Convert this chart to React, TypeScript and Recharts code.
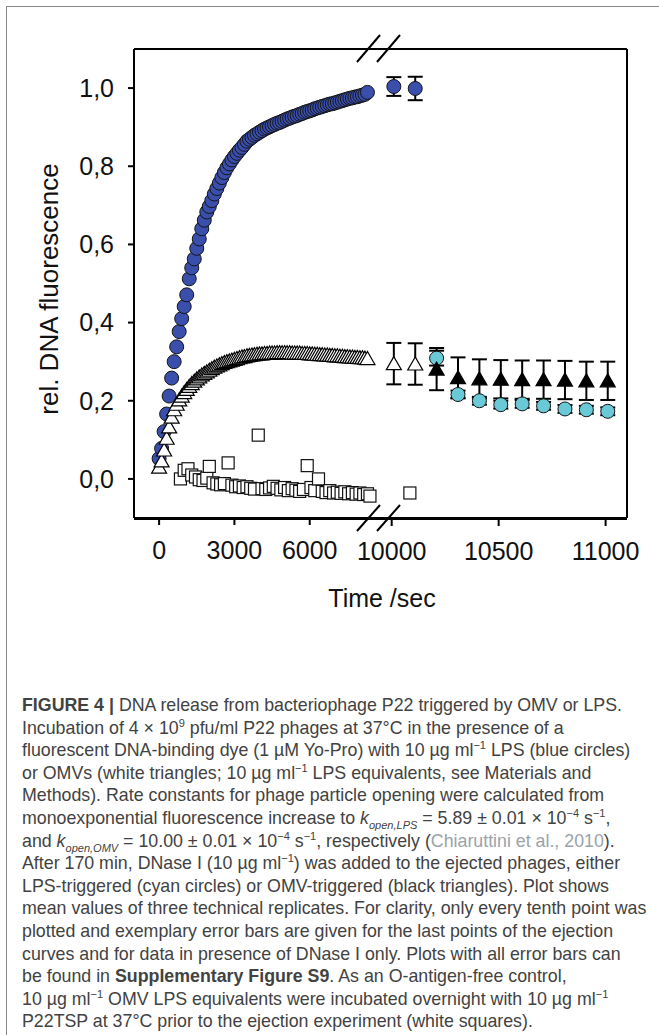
import React from "react";
import { ScatterChart, Scatter, XAxis, YAxis, ErrorBar } from "recharts";

// every tenth point of the ejection runs (s)
const ejectionTimes = [
  0, 100, 200, 300, 400, 500, 600, 700, 800, 900,
  1000, 1100, 1200, 1300, 1400, 1500, 1600, 1700, 1800, 1900,
  2000, 2100, 2200, 2300, 2400, 2500, 2600, 2700, 2800, 2900,
  3000, 3100, 3200, 3300, 3400, 3500, 3600, 3700, 3800, 3900,
  4000, 4100, 4200, 4300, 4400, 4500, 4600, 4700, 4800, 4900,
  5000, 5100, 5200, 5300, 5400, 5500, 5600, 5700, 5800, 5900,
  6000, 6100, 6200, 6300, 6400, 6500, 6600, 6700, 6800, 6900,
  7000, 7100, 7200, 7300, 7400, 7500, 7600, 7700, 7800, 7900,
  8000, 8100, 8200, 8300,
];

// LPS triggered (blue circles)
const lpsValues = [
  0.052, 0.078, 0.121, 0.166, 0.212, 0.258, 0.3, 0.338, 0.377, 0.41,
  0.441, 0.471, 0.512, 0.54, 0.563, 0.59, 0.614, 0.64, 0.662, 0.683,
  0.697, 0.712, 0.729, 0.743, 0.757, 0.771, 0.784, 0.796, 0.806, 0.816,
  0.825, 0.833, 0.841, 0.848, 0.856, 0.864, 0.869, 0.874, 0.879, 0.883,
  0.887, 0.891, 0.895, 0.898, 0.901, 0.904, 0.907, 0.91, 0.912, 0.915,
  0.918, 0.921, 0.923, 0.926, 0.928, 0.93, 0.933, 0.935, 0.938, 0.94,
  0.942, 0.944, 0.947, 0.949, 0.951, 0.953, 0.955, 0.957, 0.959, 0.96,
  0.962, 0.964, 0.966, 0.968, 0.97, 0.972, 0.974, 0.975, 0.977, 0.978,
  0.98, 0.982, 0.984, 0.989,
];

// OMV triggered (white triangles)
const omvValues = [
  0.03, 0.046, 0.074, 0.104, 0.133, 0.158, 0.177, 0.191, 0.202, 0.212,
  0.221, 0.229, 0.237, 0.244, 0.25, 0.256, 0.261, 0.266, 0.27, 0.274,
  0.278, 0.282, 0.286, 0.289, 0.292, 0.295, 0.298, 0.3, 0.302, 0.304,
  0.306, 0.308, 0.31, 0.312, 0.313, 0.315, 0.316, 0.317, 0.318, 0.319,
  0.32, 0.32, 0.321, 0.321, 0.322, 0.322, 0.322, 0.323, 0.323, 0.323,
  0.323, 0.323, 0.323, 0.322, 0.322, 0.322, 0.322, 0.321, 0.321, 0.321,
  0.32, 0.32, 0.319, 0.319, 0.318, 0.318, 0.317, 0.317, 0.316, 0.316,
  0.315, 0.315, 0.314, 0.314, 0.313, 0.313, 0.312, 0.312, 0.311, 0.311,
  0.31, 0.31, 0.309, 0.308,
];

// O-antigen-free control (white squares)
const controlTimes = [
  850, 1000, 1150, 1300, 1450, 1600, 1750, 1900, 2000, 2150,
  2300, 2450, 2600, 2750, 2900, 3050, 3200, 3350, 3500, 3650,
  3800, 3950, 4100, 4250, 4400, 4550, 4700, 4850, 5000, 5150,
  5300, 5450, 5600, 5750, 5900, 6050, 6200, 6350, 6500, 6650,
  6800, 6950, 7100, 7250, 7400, 7550, 7700, 7850, 8000, 8150,
  8300, 8400,
];
const controlValues = [
  0.0, 0.022, 0.026, 0.01, 0.005, -0.002, -0.004, 0.002, 0.032, -0.01,
  -0.013, -0.015, -0.012, 0.041, -0.016, -0.02, -0.018, -0.022, -0.02, -0.024,
  -0.026, 0.112, -0.025, -0.027, -0.023, -0.019, -0.024, -0.028, -0.022, -0.03,
  -0.025, -0.029, -0.032, -0.027, 0.034, -0.022, -0.03, 0.0, -0.032, -0.035,
  -0.03, -0.036, -0.034, -0.037, -0.033, -0.038, -0.035, -0.039, -0.036, -0.04,
  -0.038, -0.044,
];

// after the axis break
const tailTimes = [10010, 10110];
const lpsTail = [1.004, 0.999];
const lpsTailErr = [0.024, 0.03];
const omvTail = [0.295, 0.294];
const omvTailErr = [0.053, 0.053];
const controlTailTimes = [10085];
const controlTail = [-0.036];

// DNase I added
const dnaseTimes = [10210, 10310, 10410, 10510, 10610, 10710, 10810, 10910, 11010];
const dnaseLps = [0.309, 0.216, 0.2, 0.19, 0.192, 0.187, 0.179, 0.177, 0.173];
const dnaseLpsErr = [0.019, 0.01, 0.01, 0.01, 0.01, 0.01, 0.01, 0.01, 0.01];
const dnaseOmv = [0.281, 0.259, 0.256, 0.255, 0.254, 0.254, 0.253, 0.251, 0.251];
const dnaseOmvErr = [0.054, 0.052, 0.05, 0.049, 0.049, 0.049, 0.049, 0.049, 0.049];

const leftTicks = [0, 3000, 6000];
const rightTicks = [10000, 10500, 11000];
const yTicks = [0, 0.2, 0.4, 0.6, 0.8, 1.0];

const pts = (ts: number[], vs: number[], es?: number[]) =>
  ts.map((t, i) => ({ t, v: vs[i], e: es ? es[i] : 0 }));

const lpsData = pts(ejectionTimes, lpsValues);
const omvData = pts(ejectionTimes, omvValues);
const controlData = pts(controlTimes, controlValues);
const lpsTailData = pts(tailTimes, lpsTail, lpsTailErr);
const omvTailData = pts(tailTimes, omvTail, omvTailErr);
const controlTailData = pts(controlTailTimes, controlTail);
const dnaseLpsData = pts(dnaseTimes, dnaseLps, dnaseLpsErr);
const dnaseOmvData = pts(dnaseTimes, dnaseOmv, dnaseOmvErr);

const BLUE = "#3a4eab";
const CYAN = "#6ac9d6";
const FONT = "'Liberation Sans', Arial, Helvetica, sans-serif";

const dot = (fill: string) => (p: any) =>
  <circle cx={p.cx} cy={p.cy} r={7} fill={fill} stroke="#141414" strokeWidth={1} />;

const tri = (fill: string) => (p: any) => {
  const { cx, cy } = p;
  return (
    <polygon
      points={`${cx},${cy - 7} ${cx - 7.5},${cy + 6} ${cx + 7.5},${cy + 6}`}
      fill={fill}
      stroke="#000"
      strokeWidth={1.2}
    />
  );
};

const square = (p: any) =>
  <rect x={p.cx - 6} y={p.cy - 6} width={12} height={12} fill="#fff" stroke="#111" strokeWidth={1.2} />;

const axisStroke = { stroke: "#000", strokeWidth: 2 };
const tickStyle = { fontSize: 25, fill: "#111", fontFamily: FONT };
const comma = (v: number) => v.toFixed(1).replace(".", ",");

const sup = { fontSize: "0.62em", verticalAlign: "super", lineHeight: 0 } as const;
const sub = { fontSize: "0.62em", verticalAlign: "sub", lineHeight: 0, fontStyle: "italic" } as const;

function Caption() {
  const lines: React.ReactNode[] = [
    <><b>FIGURE 4</b> <b>|</b> DNA release from bacteriophage P22 triggered by OMV or LPS.</>,
    <>Incubation of 4 × 10<span style={sup}>9</span> pfu/ml P22 phages at 37°C in the presence of a</>,
    <>fluorescent DNA-binding dye (1 µM Yo-Pro) with 10 µg ml<span style={sup}>−1</span> LPS (blue circles)</>,
    <>or OMVs (white triangles; 10 µg ml<span style={sup}>−1</span> LPS equivalents, see Materials and</>,
    <>Methods). Rate constants for phage particle opening were calculated from</>,
    <>monoexponential fluorescence increase to <i>k</i><span style={sub}>open,LPS</span> = 5.89 ± 0.01 × 10<span style={sup}>−4</span> s<span style={sup}>−1</span>,</>,
    <>and <i>k</i><span style={sub}>open,OMV</span> = 10.00 ± 0.01 × 10<span style={sup}>−4</span> s<span style={sup}>−1</span>, respectively (<span style={{ color: "#9aa3ab" }}>Chiaruttini et al., 2010</span>).</>,
    <>After 170 min, DNase I (10 µg ml<span style={sup}>−1</span>) was added to the ejected phages, either</>,
    <>LPS-triggered (cyan circles) or OMV-triggered (black triangles). Plot shows</>,
    <>mean values of three technical replicates. For clarity, only every tenth point was</>,
    <>plotted and exemplary error bars are given for the last points of the ejection</>,
    <>curves and for data in presence of DNase I only. Plots with all error bars can</>,
    <>be found in <b>Supplementary Figure S9</b>. As an O-antigen-free control,</>,
    <>10 µg ml<span style={sup}>−1</span> OMV LPS equivalents were incubated overnight with 10 µg ml<span style={sup}>−1</span></>,
    <>P22TSP at 37°C prior to the ejection experiment (white squares).</>,
  ];
  return (
    <div
      style={{
        position: "absolute",
        left: 22,
        top: 694,
        fontFamily: FONT,
        fontSize: 17.8,
        lineHeight: "22.6px",
        color: "#424242",
      }}
    >
      {lines.map((l, i) => (
        <div key={i} style={{ whiteSpace: "nowrap", height: 22.6 }}>{l}</div>
      ))}
    </div>
  );
}

export default function App() {
  return (
    <div style={{ position: "absolute", left: 0, top: 0, width: 659, height: 1035, overflow: "hidden", background: "#fff" }}>
      <div
        style={{
          position: "absolute",
          left: 6,
          top: 6,
          width: 660,
          height: 1040,
          borderLeft: "1.5px solid #8a8a8a",
          borderTop: "1.5px solid #8a8a8a",
        }}
      />
      <div style={{ position: "absolute", left: 0, top: 0 }}>
        <ScatterChart width={659} height={640} margin={{ top: 48, right: 31, bottom: 120, left: 54 }}>
          <XAxis
            xAxisId="L"
            dataKey="t"
            type="number"
            domain={[-1000, 8800]}
            allowDataOverflow
            padding={{ left: 0, right: 247 }}
            ticks={leftTicks}
            height={1}
            axisLine={axisStroke}
            tickLine={axisStroke}
            tickSize={7}
            tickMargin={16}
            tick={tickStyle}
          />
          <XAxis
            xAxisId="R"
            dataKey="t"
            type="number"
            domain={[9950, 11100]}
            allowDataOverflow
            padding={{ left: 247, right: 0 }}
            ticks={rightTicks}
            height={1}
            axisLine={axisStroke}
            tickLine={axisStroke}
            tickSize={7}
            tickMargin={16}
            tick={tickStyle}
          />
          <XAxis
            xAxisId="T"
            orientation="top"
            type="number"
            domain={[0, 1]}
            height={1}
            tick={false}
            tickLine={false}
            axisLine={axisStroke}
          />
          <YAxis
            dataKey="v"
            type="number"
            domain={[-0.1, 1.1]}
            allowDataOverflow
            ticks={yTicks}
            tickFormatter={comma}
            width={80}
            axisLine={axisStroke}
            tickLine={axisStroke}
            tickSize={6}
            tickMargin={14}
            tick={tickStyle}
          />
          <YAxis
            yAxisId="R"
            orientation="right"
            type="number"
            domain={[0, 1]}
            width={1}
            tick={false}
            tickLine={false}
            axisLine={axisStroke}
          />

          <Scatter data={controlData} xAxisId="L" shape={square} isAnimationActive={false} />
          <Scatter data={lpsData} xAxisId="L" shape={dot(BLUE)} isAnimationActive={false} />
          <Scatter data={omvData} xAxisId="L" shape={tri("#fff")} isAnimationActive={false} />

          <Scatter data={controlTailData} xAxisId="R" shape={square} isAnimationActive={false} />
          <Scatter data={lpsTailData} xAxisId="R" shape={dot(BLUE)} isAnimationActive={false}>
            <ErrorBar dataKey="e" direction="y" width={7.5} stroke="#000" strokeWidth={2} />
          </Scatter>
          <Scatter data={omvTailData} xAxisId="R" shape={tri("#fff")} isAnimationActive={false}>
            <ErrorBar dataKey="e" direction="y" width={7.5} stroke="#000" strokeWidth={2} />
          </Scatter>
          <Scatter data={dnaseLpsData} xAxisId="R" shape={dot(CYAN)} isAnimationActive={false}>
            <ErrorBar dataKey="e" direction="y" width={7.5} stroke="#000" strokeWidth={2} />
          </Scatter>
          <Scatter data={dnaseOmvData} xAxisId="R" shape={tri("#000")} isAnimationActive={false}>
            <ErrorBar dataKey="e" direction="y" width={7.5} stroke="#000" strokeWidth={2} />
          </Scatter>
        </ScatterChart>
      </div>

      {/* axis break marks */}
      <svg width={659} height={640} style={{ position: "absolute", left: 0, top: 0, pointerEvents: "none" }}>
        <g stroke="#000" strokeWidth={2}>
          <line x1={357} y1={62} x2={380} y2={35} />
          <line x1={377} y1={62} x2={400} y2={35} />
          <line x1={357} y1={531} x2={380} y2={505} />
          <line x1={377} y1={531} x2={400} y2={505} />
        </g>
      </svg>

      <div
        style={{
          position: "absolute",
          left: 49,
          top: 289,
          transform: "translate(-50%, -50%) rotate(-90deg)",
          fontFamily: FONT,
          fontSize: 26,
          color: "#111",
          whiteSpace: "nowrap",
        }}
      >
        rel. DNA fluorescence
      </div>
      <div
        style={{
          position: "absolute",
          left: 382,
          top: 598,
          transform: "translate(-50%, -50%)",
          fontFamily: FONT,
          fontSize: 25,
          color: "#111",
          whiteSpace: "nowrap",
        }}
      >
        Time /sec
      </div>

      <Caption />
    </div>
  );
}
